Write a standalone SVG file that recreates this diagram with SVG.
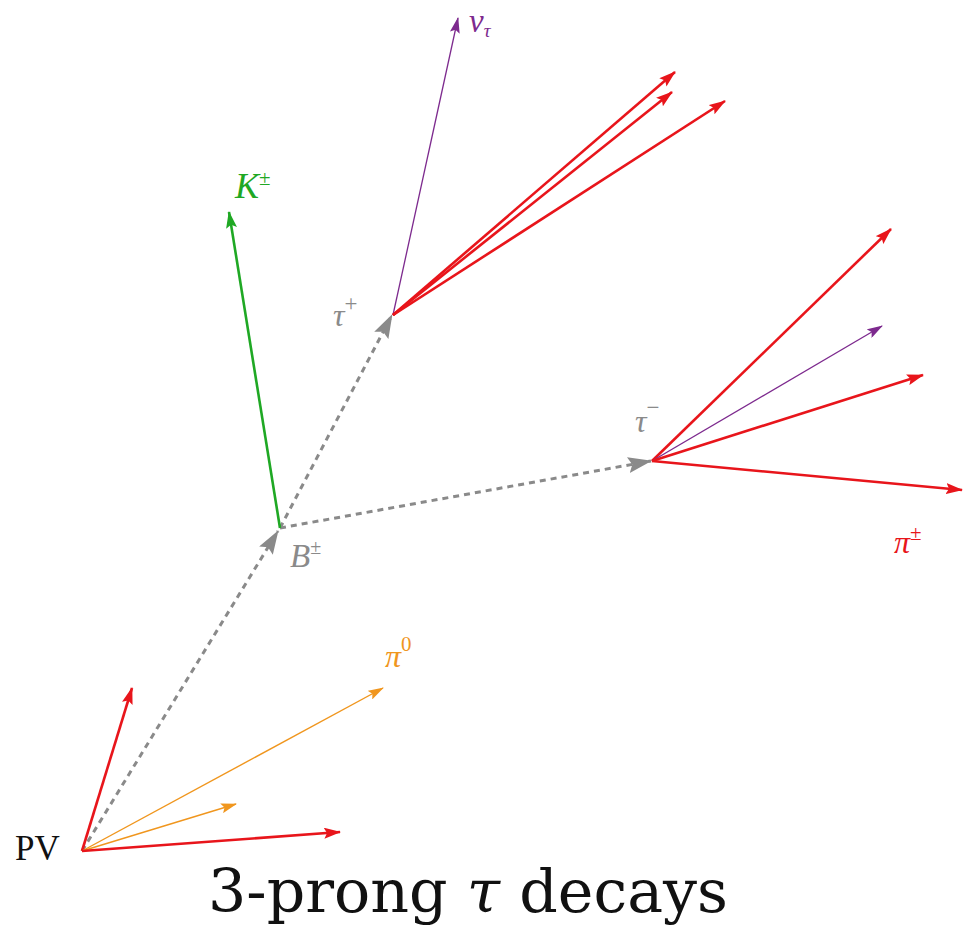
<svg xmlns="http://www.w3.org/2000/svg" width="963" height="925" viewBox="0 0 963 925">
<style>
.red{stroke:#e8151b;stroke-width:2.6;fill:none}
.pur{stroke:#7d2a8e;stroke-width:1.3;fill:none}
.grn{stroke:#1fa824;stroke-width:2.6;fill:none}
.org{stroke:#f0961e;stroke-width:1.4;fill:none}
.gry{stroke:#8a8a8a;stroke-width:3;stroke-dasharray:6 5;fill:none}
.lbl{font-family:"Liberation Serif",serif;font-style:italic}
</style>
<defs>
<marker id="aR" viewBox="0 0 17 11" refX="16" refY="5.5" markerWidth="17" markerHeight="11" markerUnits="userSpaceOnUse" orient="auto"><path d="M0,0 L17,5.5 L0,11 L3,5.5 z" fill="#e8151b"/></marker>
<marker id="aP" viewBox="0 0 16 10" refX="15" refY="5" markerWidth="16" markerHeight="10" markerUnits="userSpaceOnUse" orient="auto"><path d="M0,0 L16,5 L0,10 L3,5 z" fill="#7d2a8e"/></marker>
<marker id="aG" viewBox="0 0 17 11" refX="16" refY="5.5" markerWidth="17" markerHeight="11" markerUnits="userSpaceOnUse" orient="auto"><path d="M0,0 L17,5.5 L0,11 L3,5.5 z" fill="#1fa824"/></marker>
<marker id="aO" viewBox="0 0 16 10" refX="15" refY="5" markerWidth="16" markerHeight="10" markerUnits="userSpaceOnUse" orient="auto"><path d="M0,0 L16,5 L0,10 L3,5 z" fill="#f0961e"/></marker>
<marker id="aY" viewBox="0 0 24 16" refX="23" refY="8" markerWidth="24" markerHeight="16" markerUnits="userSpaceOnUse" orient="auto"><path d="M0,0 L24,8 L0,16 L4,8 z" fill="#8a8a8a"/></marker>
</defs>
<g id="connectors">
<line class="gry" x1="82" y1="851" x2="278" y2="531" marker-end="url(#aY)"/>
<line class="gry" x1="280" y1="528" x2="392" y2="315" marker-end="url(#aY)"/>
<line class="gry" x1="280" y1="528" x2="651" y2="461" marker-end="url(#aY)"/>
<line class="red" x1="82" y1="851" x2="132" y2="688" marker-end="url(#aR)"/>
<line class="org" x1="82" y1="851" x2="383" y2="688" marker-end="url(#aO)"/>
<line class="org" x1="82" y1="851" x2="236" y2="804" marker-end="url(#aO)"/>
<line class="red" x1="82" y1="851" x2="340" y2="832" marker-end="url(#aR)"/>
<line class="grn" x1="280" y1="528" x2="229" y2="212" marker-end="url(#aG)"/>
<line class="pur" x1="393" y1="315" x2="458" y2="18" marker-end="url(#aP)"/>
<line class="red" x1="393" y1="315" x2="675" y2="72" marker-end="url(#aR)"/>
<line class="red" x1="393" y1="315" x2="672" y2="92" marker-end="url(#aR)"/>
<line class="red" x1="393" y1="315" x2="725" y2="101" marker-end="url(#aR)"/>
<line class="red" x1="652" y1="461" x2="891" y2="229" marker-end="url(#aR)"/>
<line class="pur" x1="652" y1="461" x2="882" y2="326" marker-end="url(#aP)"/>
<line class="red" x1="652" y1="461" x2="923" y2="375" marker-end="url(#aR)"/>
<line class="red" x1="652" y1="461" x2="962" y2="490" marker-end="url(#aR)"/>
</g>
<g id="PV"><text x="15" y="860" font-family="Liberation Serif,serif" font-size="35" fill="#111">PV</text></g>
<g id="B"><text class="lbl" x="290" y="567" font-size="33" fill="#8a8a8a">B<tspan dy="-13" font-size="20" font-style="normal">±</tspan></text></g>
<g id="K"><text class="lbl" x="235" y="198" font-size="36" fill="#1fa824">K<tspan dy="-13" font-size="21" font-style="normal">±</tspan></text></g>
<g id="tauplus"><text class="lbl" x="333" y="326" font-size="32" fill="#8a8a8a">τ<tspan dy="-15" font-size="23" font-style="normal">+</tspan></text></g>
<g id="tauminus"><text class="lbl" x="635" y="432" font-size="32" fill="#8a8a8a">τ<tspan dy="-17" font-size="23" font-style="normal">−</tspan></text></g>
<g id="nu"><text class="lbl" x="469" y="32" font-size="33" fill="#7d2a8e">ν<tspan dy="5" font-size="19">τ</tspan></text></g>
<g id="pi0"><text class="lbl" x="385" y="667" font-size="32" fill="#f0961e">π<tspan dy="-16" font-size="21" font-style="normal">0</tspan></text></g>
<g id="pipm"><text class="lbl" x="894" y="553" font-size="32" fill="#e8151b">π<tspan dy="-13" font-size="21" font-style="normal">±</tspan></text></g>
<g id="title"><text x="208" y="912" font-family="DejaVu Serif,serif" font-size="59" fill="#111" textLength="520" lengthAdjust="spacingAndGlyphs">3-prong <tspan font-style="italic">τ</tspan> decays</text></g>
</svg>
